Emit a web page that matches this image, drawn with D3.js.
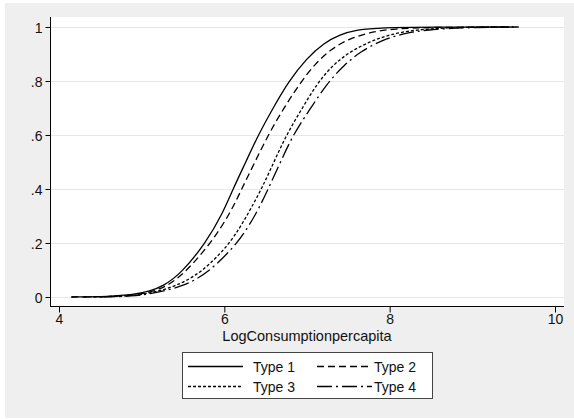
<!DOCTYPE html>
<html>
<head>
<meta charset="utf-8">
<script src="https://cdn.jsdelivr.net/npm/d3@7"></script>
<style>
  body { margin: 0; background: #fff; }
  text { font-family: "Liberation Sans", Arial, sans-serif; }
</style>
</head>
<body>
<div id="chart"></div>
<script>

// values, [log consumption, cumulative share]
var type1 = [[4.15,0],[4.6,0.002],[4.9,0.008],[5.1,0.022],[5.26,0.04],[5.48,0.088],[5.775,0.2],[5.98,0.31],[6.105,0.4],[6.26,0.5],[6.41,0.6],[6.59,0.7],[6.78,0.8],[7.0,0.885],[7.2,0.94],[7.4,0.972],[7.6,0.99],[7.9,0.998],[8.5,1],[9.45,1]];
var type2 = [[4.15,0],[4.6,0.001],[4.9,0.006],[5.1,0.018],[5.3,0.038],[5.52,0.088],[5.84,0.2],[6.07,0.31],[6.21,0.4],[6.37,0.5],[6.53,0.6],[6.71,0.695],[6.91,0.79],[7.1,0.865],[7.3,0.92],[7.5,0.955],[7.75,0.98],[8.05,0.994],[8.5,0.999],[9.57,1]];
var type3 = [[4.3,0],[4.8,0.002],[5.1,0.013],[5.4,0.038],[5.72,0.088],[6.08,0.2],[6.29,0.31],[6.45,0.4],[6.6,0.5],[6.75,0.6],[6.93,0.693],[7.12,0.79],[7.3,0.855],[7.5,0.905],[7.75,0.945],[8.0,0.972],[8.3,0.99],[8.8,0.999],[9.4,1]];
var type4 = [[4.5,0],[4.9,0.003],[5.1,0.011],[5.5,0.038],[5.8,0.088],[6.17,0.2],[6.39,0.31],[6.53,0.4],[6.68,0.5],[6.83,0.6],[7.03,0.693],[7.24,0.79],[7.45,0.86],[7.65,0.91],[7.9,0.95],[8.15,0.975],[8.45,0.99],[8.9,0.998],[9.5,1]];

var seriesNames = ["Type 1", "Type 2", "Type 3", "Type 4"];
var xTicks = [4, 6, 8, 10];
var yTicks = [0, 0.2, 0.4, 0.6, 0.8, 1];
var yTickLabels = ["0", ".2", ".4", ".6", ".8", "1"];
var xTitle = "LogConsumptionpercapita";

var dashes = ["none", "7,4", "3,2", "15,4,2,4"];

var W = 574, H = 419;
var plot = {left: 50, right: 564, top: 17, bottom: 306};

var svg = d3.select("#chart").append("svg")
    .attr("width", W)
    .attr("height", H);

// graph region + plot region
svg.append("rect").attr("x", 5).attr("y", 3).attr("width", W - 5).attr("height", H - 4).attr("fill", "#efefef");
svg.append("rect")
    .attr("x", plot.left).attr("y", plot.top)
    .attr("width", plot.right - plot.left).attr("height", plot.bottom - plot.top)
    .attr("fill", "#fff");

var x = d3.scaleLinear().domain([4, 10]).range([59, 555]);
var y = d3.scaleLinear().domain([0, 1]).range([297, 27]);

// grid
svg.append("g").selectAll("line")
    .data(yTicks)
    .enter().append("line")
    .attr("x1", plot.left).attr("x2", plot.right)
    .attr("y1", function(d) { return Math.round(y(d)) + 0.5; })
    .attr("y2", function(d) { return Math.round(y(d)) + 0.5; })
    .attr("stroke", "#e6e6e6")
    .attr("stroke-width", 1.2);

var yAxis = svg.append("g")
    .attr("transform", "translate(" + (plot.left + 0.5) + ",0)")
    .call(d3.axisLeft(y).tickValues(yTicks).tickSize(5).tickPadding(3)
      .tickFormat(function(d, i) { return yTickLabels[i]; }));

var xAxis = svg.append("g")
    .attr("transform", "translate(0," + (plot.bottom + 0.5) + ")")
    .call(d3.axisBottom(x).tickValues(xTicks).tickSize(6).tickPadding(2).tickFormat(d3.format("d")));

[xAxis, yAxis].forEach(function(a) {
  a.select(".domain").remove();
  a.selectAll("line").attr("stroke", "#000");
  a.selectAll("text").attr("font-size", 14).attr("fill", "#111");
});
yAxis.selectAll("text").attr("dy", "0.36em");

svg.append("line").attr("x1", plot.left + 0.5).attr("x2", plot.left + 0.5)
    .attr("y1", plot.top).attr("y2", plot.bottom + 1).attr("stroke", "#000");
svg.append("line").attr("x1", plot.left).attr("x2", plot.right)
    .attr("y1", plot.bottom + 0.5).attr("y2", plot.bottom + 0.5).attr("stroke", "#000");

svg.append("text")
    .attr("x", (plot.left + plot.right) / 2)
    .attr("y", 341)
    .attr("text-anchor", "middle")
    .attr("font-size", 14.5)
    .attr("fill", "#111")
    .text(xTitle);

var line = d3.line()
    .x(function(d) { return x(d[0]); })
    .y(function(d) { return y(d[1]); })
    .curve(d3.curveBasis);

var allSeries = [type1, type2, type3, type4];

svg.append("g").selectAll("path")
    .data(allSeries)
    .enter().append("path")
    .attr("d", line)
    .attr("fill", "none")
    .attr("stroke", "#000")
    .attr("stroke-width", 1.3)
    .attr("stroke-dasharray", function(d, i) { return dashes[i]; });

// legend
var leg = svg.append("g");
leg.append("rect")
    .attr("x", 182.5).attr("y", 352.5).attr("width", 250).attr("height", 46)
    .attr("fill", "#fff").attr("stroke", "#444");

var legPos = [[188, 366.5], [317, 366.5], [188, 386.5], [317, 386.5]];
seriesNames.forEach(function(name, i) {
  var p = legPos[i];
  leg.append("line")
      .attr("x1", p[0]).attr("x2", p[0] + 55)
      .attr("y1", p[1]).attr("y2", p[1])
      .attr("stroke", "#000").attr("stroke-width", 1.3)
      .attr("stroke-dasharray", dashes[i]);
  leg.append("text")
      .attr("x", p[0] + (i % 2 ? 57 : 65))
      .attr("y", p[1])
      .attr("dy", "0.36em")
      .attr("font-size", 14)
      .attr("fill", "#111")
      .text(name);
});

</script>
</body>
</html>
